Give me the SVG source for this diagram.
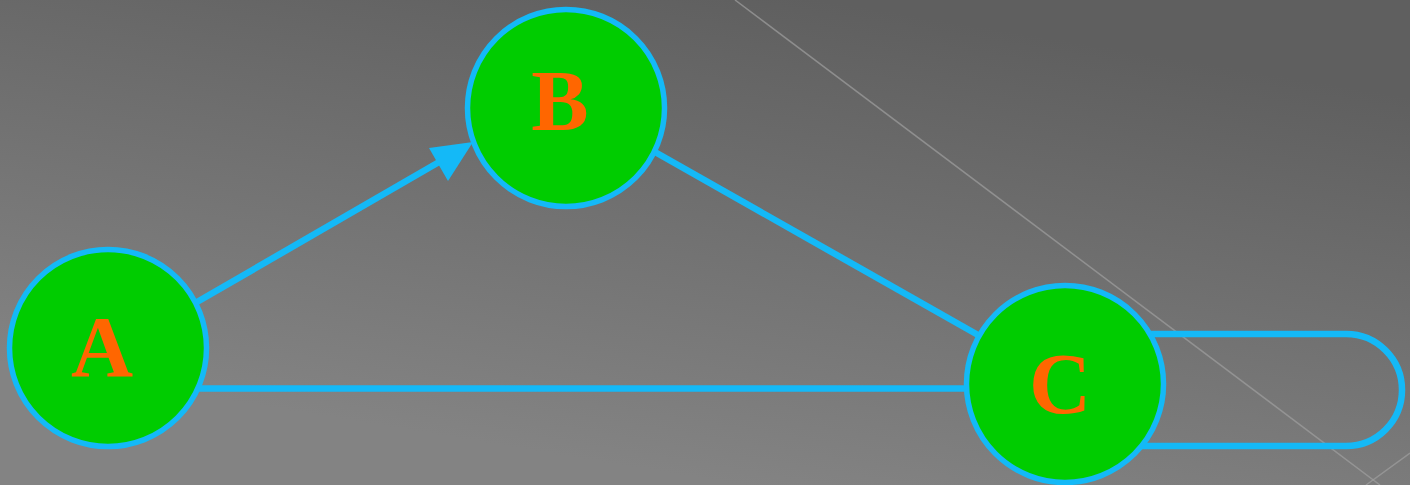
<svg xmlns="http://www.w3.org/2000/svg" width="1410" height="485" viewBox="0 0 1410 485">
<defs>
<linearGradient id="bg" gradientUnits="userSpaceOnUse" x1="820" y1="0" x2="740" y2="485">
<stop offset="0" stop-color="#5f5f5f"/>
<stop offset="1" stop-color="#838383"/>
</linearGradient>
<style>
.node circle{fill:#00cc00;stroke:#14b9f7;stroke-width:5.5}
.node text{font-family:"Liberation Serif",serif;font-weight:bold;font-size:86px;fill:#ff6600;text-anchor:middle}
.edge{stroke:#14b9f7;stroke-width:6.5;fill:none}
.deco{stroke:#a0a0a0;stroke-width:1.5;fill:none;opacity:0.7}
</style>
</defs>
<rect width="1410" height="485" fill="url(#bg)"/>
<line class="deco" x1="735" y1="0" x2="1380" y2="485"/>
<line class="deco" x1="1366" y1="485" x2="1410" y2="453"/>
<g id="connectors">
<line class="edge" x1="197" y1="302" x2="446" y2="158"/>
<polygon points="473,142 429,148 448,181" fill="#14b9f7"/>
<line class="edge" x1="655" y1="152" x2="978" y2="335"/>
<line class="edge" x1="198" y1="388.5" x2="966" y2="388.5"/>
<path class="edge" d="M1148,334 H1346 A56,56 0 0 1 1346,446 H1140"/>
</g>
<g id="node-A" class="node">
<circle cx="108" cy="348" r="98.5"/>
<text x="102" y="376">A</text>
</g>
<g id="node-B" class="node">
<circle cx="566" cy="108" r="98.5"/>
<text x="560" y="130">B</text>
</g>
<g id="node-C" class="node">
<circle cx="1065" cy="384" r="98.5"/>
<text x="1060" y="413">C</text>
</g>
</svg>
